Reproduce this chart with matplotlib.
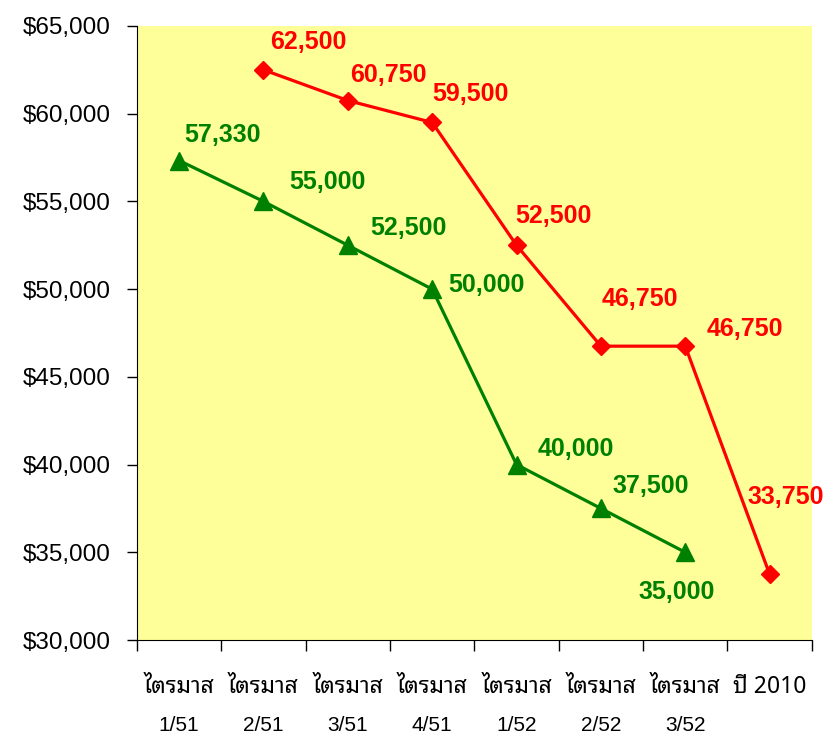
import matplotlib
matplotlib.use("Agg")
import matplotlib.pyplot as plt
from matplotlib.ticker import FuncFormatter
import numpy as np

quarter_names = ["ไตรมาส", "ไตรมาส", "ไตรมาส", "ไตรมาส",
                 "ไตรมาส", "ไตรมาส", "ไตรมาส", "ปี 2010"]
quarter_numbers = ["1/51", "2/51", "3/51", "4/51", "1/52", "2/52", "3/52", ""]
red_values = [np.nan, 62500, 60750, 59500, 52500, 46750, 46750, 33750]
green_values = [57330, 55000, 52500, 50000, 40000, 37500, 35000, np.nan]

# where each number sits relative to its marker (pixels)
red_offsets = [None, (45, 28), (41, 26), (38, 28), (37, 29), (39, 47), (60, 17), (16, 77)]
green_offsets = [(43, 26), (64, 19), (61, 17), (54, 4), (59, 16), (50, 22), (-9, -40), None]

plt.rcParams['font.family'] = ['Liberation Sans', 'DejaVu Sans']
thai_family = ['Noto Sans Thai Looped', 'Noto Sans Thai', 'DejaVu Sans']

fig = plt.figure(figsize=(8.25, 7.36), dpi=100)
ax = fig.add_axes([0.166, 0.1304, 0.818, 0.8343])
ax.set_facecolor('#FFFF99')

x = np.arange(len(quarter_names))
ax.plot(x, red_values, color='#FF0000', lw=2.3, marker='D', ms=9, zorder=3)
ax.plot(x, green_values, color='#008000', lw=2.3, marker='^', ms=12.5, zorder=3)

for i, v in enumerate(red_values):
    if red_offsets[i]:
        ax.annotate(f"{v:,.0f}", (x[i], v), xytext=red_offsets[i], textcoords='offset pixels',
                    ha='center', va='center', color='#FF0000', fontsize=18, fontweight='bold')
for i, v in enumerate(green_values):
    if green_offsets[i]:
        ax.annotate(f"{v:,.0f}", (x[i], v), xytext=green_offsets[i], textcoords='offset pixels',
                    ha='center', va='center', color='#008000', fontsize=18, fontweight='bold')

ax.set_xlim(-0.5, len(quarter_names) - 0.5)
ax.set_ylim(30000, 65000)
ax.set_yticks(np.arange(30000, 65001, 5000))
ax.yaxis.set_major_formatter(FuncFormatter(lambda v, p: f"${v:,.0f}"))
ax.tick_params(axis='y', labelsize=17.5, length=7, width=1, pad=12)
for t in ax.get_yticklabels():
    t.set_fontfamily('Liberation Sans')

# ticks on the category borders, names under the middles
ax.set_xticks(np.arange(-0.5, len(quarter_names), 1))
ax.set_xticklabels([])
ax.set_xticks(x, minor=True)
ax.set_xticklabels(quarter_names, minor=True, family=thai_family, fontsize=16.5)
ax.tick_params(axis='x', which='major', length=8, width=1)
ax.tick_params(axis='x', which='minor', length=0, pad=25)

# second line of the labels
for xi, s in zip(x, quarter_numbers):
    ax.text(xi, -0.1384, s, transform=ax.get_xaxis_transform(), ha='center', va='center',
            fontsize=15, family='Liberation Sans')

ax.spines['top'].set_visible(False)
ax.spines['right'].set_visible(False)

fig.savefig("out.png", dpi=100)
